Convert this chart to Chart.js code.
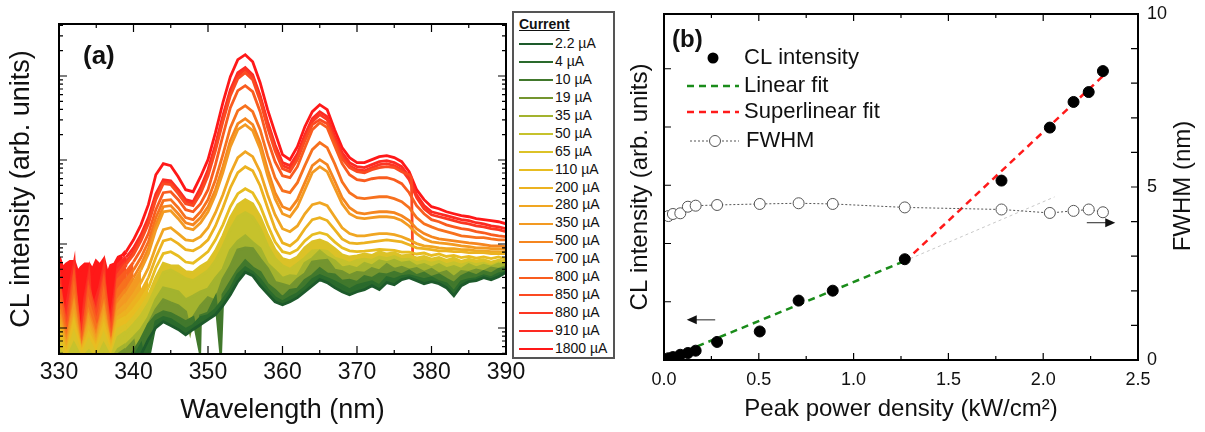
<!DOCTYPE html>
<html>
<head>
<meta charset="utf-8">
<script src="https://cdn.jsdelivr.net/npm/chart.js@4.4.1/dist/chart.umd.min.js"></script>
<style>
  body { margin:0; width:1205px; height:432px; background:#fff; position:relative; overflow:hidden;
         font-family:"Liberation Sans", Arial, sans-serif; color:#111; }
  canvas { position:absolute; top:0; }
  #chartA { left:0; }
  #chartB { left:600px; }
  .tag { position:absolute; font-weight:bold; font-size:26px; line-height:30px; }
  #legA { position:absolute; left:512px; top:11px; width:99px; height:344px; border:2px solid #555; background:#fff; }
  .legTitle { position:absolute; left:519px; top:16px; font-size:14px; font-weight:bold; text-decoration:underline; }
  .legItem { position:absolute; left:519px; height:18px; font-size:14px; line-height:18px; white-space:nowrap; }
  .legItem i { display:inline-block; width:34px; height:2px; vertical-align:middle; margin-right:2px; }
</style>
</head>
<body>
<canvas id="chartA" width="530" height="432"></canvas>
<canvas id="chartB" width="605" height="432"></canvas>
<div class="tag" style="left:83px;top:40px">(a)</div>
<div class="tag" style="left:672px;top:24px;font-size:24px">(b)</div>
<div id="legA"></div>
<div class="legTitle">Current</div>
<div id="legItems"></div>
<script>
// ---------- panel (a): CL spectra ----------
const wavelength = [330,331,332,333,334,335,336,337,338,339,340,341,342,343,344,345,346,347,348,349,
  350,351,352,353,354,355,356,357,358,359,360,361,362,363,364,365,366,367,368,369,370,
  371,372,373,374,375,376,377,378,379,380,381,382,383,384,385,386,387,388,389,390];

const currents = ["2.2", "4", "10", "19", "35", "50", "65", "110", "200", "280", "350", "500", "700", "800", "850", "880", "910", "1800"];
const colors = ["#1d5a2b", "#2a6a2c", "#41782c", "#74952f", "#a3b32e", "#c6c22c", "#dcc227", "#e8bd21", "#ecb220",
  "#f0a622", "#f39a22", "#f5861f", "#f7711e", "#f95c1f", "#fb4a21", "#fc3622", "#fd2a22", "#ff1818"];
// low currents are noise dominated: the band down to the next trace is filled
const noisyBand = [true, true, true, true, true, true, true, false, false, false, false, false, false, false, false, false, false, false];
// short-wavelength limit (nm) of the dense noise band under the cleaner traces
const noiseUntil = [0, 0, 0, 0, 0, 0, 0, 342, 342, 341, 341, 340, 340, 339.5, 338.5, 338.5, 338.5, 338.5];

const s2p2 = [3.0,2.9,3.1,2.9,3.0,2.9,3.1,2.9,3.1, 3.2,3.8,4.8,7.3,10.1,11.9,10.7,9.6,8.3,9.6,11,
  12.6,14.4,18.4,24.9,35.6,46,42,31.9,25.6,20.5,18.9, 20.5,23,27,31.9,37.6,34.7,30.2,27,24.9,27,
  28.6,31.9,28.6,34.7,32.8,37.6,39.7,36.6,33.7,35.6, 33.7,30.2,24.2,31.9,35.6,36.6,39.7,37.6,40.8,46];
const s4 = [3.0,3.2,2.9,3.2,3.0,2.9,3.3,3.0,3.3, 3.3,4.4,6.3,4.2,11.9,13.3,12.6,11,9.6,10.7,13.3,
  14,16.5,21.7,28.6,43,52,46,37.6,28.6,23,20.5, 23,25.6,30.2,37.6,42,38.7,35.6,31.9,28.6,31.9,
  33.7,35.6,31.9,39.7,37.6,40.8,42,39.7,37.6,39.7, 35.6,33.7,27,35.6,37.6,38.7,42,39.7,44,46];
const s10 = [3.2,3.0,3.3,3.0,3.2,3.0,3.4,3.2,3.5, 4.0,5.2,7.3,11,14,15.6,14.8,13.3,11.9,13.3,14,
  15,23,25,35,49,63,52,46,33,28,23, 28,29,37,42,51,44,43,36,37,35,
  41,39,44,43,46,43,48,42,45,40, 43,38,34,41,45,42,47,44,50,51];
const s19 = [3.7,3.4,4.0,3.6,3.8,3.4,4.2,3.6,4.8, 5.5,6.9,6.3,11,16.5,21.7,19.9,18.4,15.6,13.3,18.4,
  23,21,38,54,85,90,88,66,51,35,33, 31,38,44,61,63,64,49,47,42,46,
  45,51,48,57,50,53,49,51,46,50, 44,47,40,47,46,49,47,52,50,54];
const s35 = [4.2,3.7,4.4,3.8,4.2,3.6,4.7,4.0,5.5, 6.3,7.7,9.6,13.3,21.7,30,28.6,27,21.7,24,27,
  29,39,50,84,108,125,104,88,58,48,39, 42,41,59,67,82,70,63,52,54,51,
  59,55,63,60,64,59,61,54,57,52, 57,51,54,50,57,52,56,53,58,55];
const s50 = [5.5,4.0,6.3,4.2,5.2,4.0,6.2,4.2,7.7, 8.9,11,14,19.4,30.2,46,49,44,38.7,36.6,42,
  48,63,93,148,211,236,211,152,95,67,55, 50,58,68,83,84,82,68,64,59,64,
  66,64,70,67,71,65,66,60,63,59, 62,57,60,56,60,57,59,55,60,57];
const s65 = [7.3,4.2,8.3,4.4,6.9,4.7,8.1,4.6,9.6, 10.7,13.3,17.4,24.2,39.7,59,55,55,47,46,54,
  61,83,125,206,294,337,302,211,129,85.5,67, 63,70,90,106,112,103,88,74.5,70,72,
  76,73,81,76,79,72,74,68,71,66, 69,64,68,62,66,63,65,61,64,62];
const s110 = [9.6,4.4,10.7,4.7,8.3,5.5,10.1,4.8,11.9, 13.3,16.5,21.7,30.2,52,77,81,72,61,59,69,
  81,112,169,278,397,455,408,286,169,106,81, 77,85.5,109,129,136,129,106,90,83,81,
  82,84,86,85,84,80,80,76,78,73, 76,71,73,69,71,68,70,67,70,66];
const s200 = [11,4.8,11.9,4.7,9.6,5.8,11.9,5.2,13.3, 15.6,20.5,27,39.7,69,109,115,101,85.5,83,93,
  112,164,270,468,706,833,746,494,270,152,103, 95,112,152,195,206,190,148,115,103,101,
  103,106,109,112,109,106,98,90,88,85.5, 83,83,81,81,79,79,79,77,77,77];
const s280 = [12.6,5.2,13.3,4.9,11,6.3,13.3,5.5,15.6, 18.9,24.9,34.7,52,92.7,148,156,133,112,109,122,
  156,236,386,686,1067,1255,1096,726,386,223,152, 140,164,229,294,310,286,211,156,133,125,
  125,129,133,133,129,122,112,101,95,93, 90,88,88,85.5,85.5,83,83,81,81,79];
const s350 = [14.4,5.5,16.5,4.4,12.6,6.9,15.6,4.8,18.9, 24.9,34.7,49,76.6,148,242,249,200,156,148,179,
  242,386,706,1440,2296,2632,2234,1364,650,346,229, 211,278,443,706,833,726,468,302,229,206,
  200,206,211,211,206,190,164,133,115,106, 103,101,98,95,93,90,90,88,88,85.5];
const s500 = [16.5,6.3,18.9,4.8,14.4,7.7,17.4,5.2,21.7, 28.6,39.7,57,88,169,278,286,229,179,169,206,
  278,443,833,1698,2706,3105,2632,1609,767,408,278, 256,337,537,856,1009,880,566,356,270,236,
  229,236,242,242,236,217,190,152,133,122, 115,112,109,106,103,101,98,95,95,93];
const s700 = [21.7,7.3,24.9,5.2,18.9,9.6,22.9,5.8,28.6, 37.6,49,69,106,206,328,337,270,206,195,242,
  337,582,1158,2427,3864,4431,3758,2296,1126,615,431, 408,537,856,1327,1609,1403,905,551,408,356,
  346,356,365,365,346,319,270,206,174,160, 148,140,133,125,122,119,119,115,112,112];
const s800 = [28.6,8.3,32.8,5.5,24.9,11,30.2,6.3,37.6, 47,61,85.5,133,256,408,419,337,256,242,302,
  443,880,1946,4198,6683,7666,6500,3758,1745,955,650, 615,833,1403,2296,2782,2427,1481,905,668,582,
  566,598,615,615,582,522,408,286,229,195, 184,169,160,152,148,140,136,129,125,122];
const s850 = [33,9.6,38,5.5,29,13.3,35.6,7.3,43, 57,74.5,109,174,337,522,508,397,302,286,397,
  650,1291,2857,5828,9290,10950,9036,5082,2427,1291,788, 726,1009,1698,2632,3020,2706,1651,1037,811,726,
  706,767,811,833,811,726,668];
const s880 = [37.6,12.6,43,6.3,33.7,16.5,42,9.6,49, 61,81,118,190,365,551,536,419,319,302,431,
  706,1403,3105,6330,10080,11890,9800,5520,2632,1403,856, 788,1096,1845,2857,3465,3020,1794,1126,856,767,
  746,811,880,905,856,767,582,356,263,223, 211,200,190,179,174,164,160,152,148,140];
const s910 = [47,16.5,52,8.3,40,21.7,49,12.6,57, 69,90,129,206,397,582,566,443,337,319,468,
  767,1522,3371,6870,10950,12570,10360,5828,2857,1522,930, 856,1190,2000,3105,3758,3278,1946,1224,930,833,
  811,880,955,982,930,833,632,386,286,242, 229,217,206,195,190,179,174,164,160,152];
const s1800 = [69,57,61,52,57,61,64,55,69, 81,112,169,294,668,905,856,632,443,419,632,
  1009,2114,4815,9800,15640,17930,14800,8330,3972,2114,1158, 1009,1440,2490,3758,4555,3972,2296,1403,1067,930,
  930,1009,1096,1126,1067,955,726,443,337,278, 263,242,229,217,211,200,195,190,184,174];

const spectra = [s2p2, s4, s10, s19, s35, s50, s65, s110, s200, s280, s350, s500, s700, s800, s850, s880, s910, s1800];

// noise spikes between the 1 nm samples, and the cut-off of the 850 uA trace, as [wavelength, intensity]
const extraPoints = {
  "4": [[341.6, 3.0]],
  "10": [[348.9, 5.3], [351.7, 5.0]],
  "19": [[340.4, 4.2], [347.6, 9.0]],
  "700": [[331.5, 11], [333.5, 9], [335.5, 12], [337.5, 11]],
  "800": [[331.5, 14], [333.5, 12], [335.5, 16], [337.5, 14]],
  "850": [[377.3, 615], [377.5, 52]],
  "880": [[330.5, 7], [331.5, 22], [332.5, 5], [333.5, 18], [334.5, 6], [335.5, 24], [336.5, 5], [337.5, 20]],
  "910": [[330.5, 10], [331.5, 30], [332.5, 6], [333.5, 22], [334.5, 8], [335.5, 30], [336.5, 7], [337.5, 25]],
  "1800": [[330.5, 50], [331.5, 61], [332.5, 45], [333.5, 57], [334.5, 48], [335.5, 55], [336.5, 42], [337.5, 57], [338.5, 72]],
};

// ---------- panel (b): CL intensity and FWHM vs power ----------
const powerDensity = [0.023, 0.047, 0.086, 0.126, 0.167, 0.28, 0.505, 0.71, 0.89, 1.27, 1.78, 2.035, 2.16, 2.24, 2.315];
const clIntensity = [0.03, 0.05, 0.09, 0.12, 0.16, 0.31, 0.49, 1.02, 1.19, 1.73, 3.08, 3.99, 4.43, 4.60, 4.96];
const fwhm = [4.16, 4.22, 4.24, 4.43, 4.46, 4.48, 4.51, 4.53, 4.51, 4.41, 4.35, 4.25, 4.31, 4.35, 4.27];
const linearFitX = [0, 1.27];
const linearFitY = [0, 1.70];
const linearExtX = [1.27, 2.06];
const linearExtY = [1.70, 2.80];
const superFitX = [1.27, 2.32];
const superFitY = [1.69, 4.89];
const xTickLabelsB = [0, 0.5, 1.0, 1.5, 2.0, 2.5];

const FONT = '"Liberation Sans", Arial, sans-serif';

// legend of panel (a)
const legItems = document.getElementById("legItems");
currents.forEach((c, i) => {
  const d = document.createElement("div");
  d.className = "legItem";
  d.style.top = (34 + i * 17.94) + "px";
  d.innerHTML = `<i style="background:${colors[i]}"></i>${c} µA`;
  legItems.appendChild(d);
});

// frame + inward ticks
function frameTicks(cfg) {
  return {
    id: "frameTicks",
    afterDatasetsDraw(chart) {
      const { ctx, chartArea: a, scales } = chart;
      ctx.save();
      ctx.strokeStyle = "#000";
      ctx.lineWidth = 1.2;
      ctx.beginPath();
      cfg.x.forEach(([v, len]) => {
        const x = scales.x.getPixelForValue(v);
        ctx.moveTo(x, a.bottom); ctx.lineTo(x, a.bottom - len);
        ctx.moveTo(x, a.top); ctx.lineTo(x, a.top + len);
      });
      cfg.y.forEach(([id, v, len, side]) => {
        const y = scales[id].getPixelForValue(v);
        if (side !== "right") { ctx.moveTo(a.left, y); ctx.lineTo(a.left + len, y); }
        if (side !== "left") { ctx.moveTo(a.right, y); ctx.lineTo(a.right - len, y); }
      });
      ctx.stroke();
      ctx.lineWidth = 2;
      ctx.strokeRect(a.left, a.top, a.right - a.left, a.bottom - a.top);
      ctx.restore();
      if (cfg.extra) cfg.extra(chart);
    }
  };
}

const ticksA = { x: [], y: [] };
for (let v = 330; v <= 390; v += 5) ticksA.x.push([v, v % 10 === 0 ? 8 : 4]);
for (let p = 0; p <= 4; p++) for (let k = 1; k <= 9; k++) {
  const v = k * Math.pow(10, p);
  if (v >= 4.9 && v <= 41600) ticksA.y.push(["y", v, k === 1 ? 8 : 4, "both"]);
}

const CLEAR = "rgba(0,0,0,0)";
const datasetsA = spectra.map((vals, i) => {
  const pts = vals.map((v, j) => ({ x: wavelength[j], y: v }));
  (extraPoints[currents[i]] || []).forEach(([x, y]) => pts.push({ x, y }));
  pts.sort((p, q) => p.x - q.x);
  const col = colors[i];
  return {
    label: currents[i] + " µA", data: pts, borderColor: col, backgroundColor: col,
    borderWidth: 2.8, pointRadius: 0, tension: 0,
    order: i, // higher currents drawn first, low-current noise on top
    fill: noisyBand[i] ? (i === 0 ? false : "+1") : "start",
    segment: {
      backgroundColor: c => (noisyBand[i] || c.p0.parsed.x < noiseUntil[i] ? col : CLEAR),
      borderWidth: c => (c.p1.parsed.x <= 339 ? 4 : 2.8)
    }
  };
}).reverse();

new Chart(document.getElementById("chartA"), {
  type: "line",
  data: { datasets: datasetsA },
  options: {
    responsive: false, animation: false, events: [],
    layout: { padding: { top: 24, right: 24, left: 0, bottom: 0 } },
    scales: {
      x: {
        type: "linear", min: 330, max: 390,
        ticks: { stepSize: 10, autoSkip: false, maxRotation: 0, padding: 5, color: "#111", font: { family: FONT, size: 23 } },
        grid: { display: false, drawTicks: false }, border: { display: false },
        title: { display: true, text: "Wavelength (nm)", color: "#111", font: { family: FONT, size: 27 }, padding: { top: 0, bottom: 5 } },
        afterFit(s) { s.height = 78; s.paddingLeft = 0; s.paddingRight = 0; }
      },
      y: {
        type: "logarithmic", min: 4.9, max: 41600,
        ticks: { display: false }, grid: { display: false, drawTicks: false }, border: { display: false },
        title: { display: true, text: "CL intensity (arb. units)", color: "#111", font: { family: FONT, size: 27 }, padding: { top: 5, bottom: 0 } },
        afterFit(s) { s.width = 59; s.paddingTop = 0; s.paddingBottom = 0; }
      }
    },
    plugins: { legend: { display: false }, tooltip: { enabled: false } }
  },
  plugins: [frameTicks(ticksA)]
});

// ---------- chart (b) ----------
const ticksB = { x: [], y: [] };
for (let v = 0; v <= 2.5001; v += 0.25) ticksB.x.push([v, Math.abs(v * 2 - Math.round(v * 2)) < 1e-6 ? 7 : 4]);
for (let v = 1; v <= 5; v++) ticksB.y.push(["yL", v, 7, "left"]);
for (let v = 1; v <= 9; v++) ticksB.y.push(["yR", v, 7, "right"]);

const arrows = [
  { axis: "yL", from: [0.27, 0.69], to: [0.12, 0.69] },
  { axis: "yR", from: [2.23, 3.97], to: [2.38, 3.97] },
];

function drawExtrasB(chart) {
  const { ctx, scales } = chart;
  ctx.save();
  // arrows
  arrows.forEach(a => {
    const x1 = scales.x.getPixelForValue(a.from[0]), y1 = scales[a.axis].getPixelForValue(a.from[1]);
    const x2 = scales.x.getPixelForValue(a.to[0]), y2 = scales[a.axis].getPixelForValue(a.to[1]);
    const dir = Math.sign(x2 - x1);
    ctx.strokeStyle = "#555"; ctx.lineWidth = 1.3;
    ctx.beginPath(); ctx.moveTo(x1, y1); ctx.lineTo(x2 - dir * 6, y2); ctx.stroke();
    ctx.fillStyle = "#111";
    ctx.beginPath(); ctx.moveTo(x2, y2); ctx.lineTo(x2 - dir * 10, y2 - 4.5); ctx.lineTo(x2 - dir * 10, y2 + 4.5); ctx.closePath(); ctx.fill();
  });
  // legend
  ctx.font = `22px ${FONT}`;
  ctx.fillStyle = "#111";
  ctx.textBaseline = "middle";
  ctx.textAlign = "left";
  ctx.beginPath(); ctx.arc(113, 58, 5.5, 0, Math.PI * 2); ctx.fillStyle = "#000"; ctx.fill();
  ctx.fillStyle = "#111";
  ctx.fillText("CL intensity", 144, 58);
  ctx.lineWidth = 2.5; ctx.setLineDash([7, 5]);
  ctx.strokeStyle = "#1a8c1a"; ctx.beginPath(); ctx.moveTo(87, 86); ctx.lineTo(139, 86); ctx.stroke();
  ctx.fillText("Linear fit", 144, 86);
  ctx.strokeStyle = "#ff1a1a"; ctx.beginPath(); ctx.moveTo(87, 112); ctx.lineTo(139, 112); ctx.stroke();
  ctx.fillText("Superlinear fit", 144, 112);
  ctx.lineWidth = 1; ctx.setLineDash([2, 2]); ctx.strokeStyle = "#555";
  ctx.beginPath(); ctx.moveTo(90, 141); ctx.lineTo(139, 141); ctx.stroke();
  ctx.setLineDash([]);
  ctx.beginPath(); ctx.arc(115, 141, 5.5, 0, Math.PI * 2); ctx.fillStyle = "#fff"; ctx.fill(); ctx.stroke();
  ctx.fillStyle = "#111";
  ctx.fillText("FWHM", 146, 141);
  // right axis title, reading bottom to top
  ctx.font = `24px ${FONT}`;
  ctx.translate(583, 186); ctx.rotate(-Math.PI / 2);
  ctx.textAlign = "center";
  ctx.fillText("FWHM (nm)", 0, 0);
  ctx.restore();
}
ticksB.extra = drawExtrasB;

const toXY = (xs, ys) => xs.map((x, i) => ({ x, y: ys[i] }));

new Chart(document.getElementById("chartB"), {
  type: "scatter",
  data: {
    datasets: [
      { label: "CL intensity", data: toXY(powerDensity, clIntensity), yAxisID: "yL",
        pointRadius: 5.5, pointBackgroundColor: "#000", pointBorderColor: "#000", showLine: false },
      { label: "FWHM", data: toXY(powerDensity, fwhm), yAxisID: "yR", pointRadius: 5.5,
        pointBackgroundColor: "#fff", pointBorderColor: "#555", pointBorderWidth: 1,
        showLine: true, borderColor: "#555", borderWidth: 1, borderDash: [2, 2] },
      { label: "Superlinear fit", data: toXY(superFitX, superFitY), yAxisID: "yL", showLine: true,
        pointRadius: 0, borderColor: "#ff1a1a", borderWidth: 2.5, borderDash: [7, 5] },
      { label: "Linear fit", data: toXY(linearFitX, linearFitY), yAxisID: "yL", showLine: true,
        pointRadius: 0, borderColor: "#1a8c1a", borderWidth: 2.5, borderDash: [7, 5] },
      { label: "Linear extension", data: toXY(linearExtX, linearExtY), yAxisID: "yL", showLine: true,
        pointRadius: 0, borderColor: "#c8c8c8", borderWidth: 1, borderDash: [3, 3] },
    ]
  },
  options: {
    responsive: false, animation: false, events: [],
    layout: { padding: { top: 14, right: 0, left: 0, bottom: 0 } },
    scales: {
      x: {
        type: "linear", min: 0, max: 2.5,
        afterBuildTicks(s) { s.ticks = xTickLabelsB.map(v => ({ value: v })); },
        ticks: { autoSkip: false, maxRotation: 0, padding: 9, color: "#111", font: { family: FONT, size: 18 },
                 callback: v => Number(v).toFixed(1) },
        grid: { display: false, drawTicks: false }, border: { display: false },
        title: { display: true, text: "Peak power density (kW/cm²)", color: "#111", font: { family: FONT, size: 24 }, padding: { top: 0, bottom: 8 } },
        afterFit(s) { s.height = 72; s.paddingLeft = 0; s.paddingRight = 0; }
      },
      yL: {
        type: "linear", position: "left", min: 0, max: 5.94,
        ticks: { display: false }, grid: { display: false, drawTicks: false }, border: { display: false },
        title: { display: true, text: "CL intensity (arb. units)", color: "#111", font: { family: FONT, size: 24 }, padding: { top: 26, bottom: 0 } },
        afterFit(s) { s.width = 64; s.paddingTop = 0; s.paddingBottom = 0; }
      },
      yR: {
        type: "linear", position: "right", min: 0, max: 10,
        ticks: { stepSize: 5, padding: 9, color: "#111", font: { family: FONT, size: 18 } },
        grid: { display: false, drawTicks: false }, border: { display: false },
        afterFit(s) { s.width = 67; s.paddingTop = 0; s.paddingBottom = 0; }
      }
    },
    plugins: { legend: { display: false }, tooltip: { enabled: false } }
  },
  plugins: [frameTicks(ticksB)]
});
</script>
</body>
</html>
